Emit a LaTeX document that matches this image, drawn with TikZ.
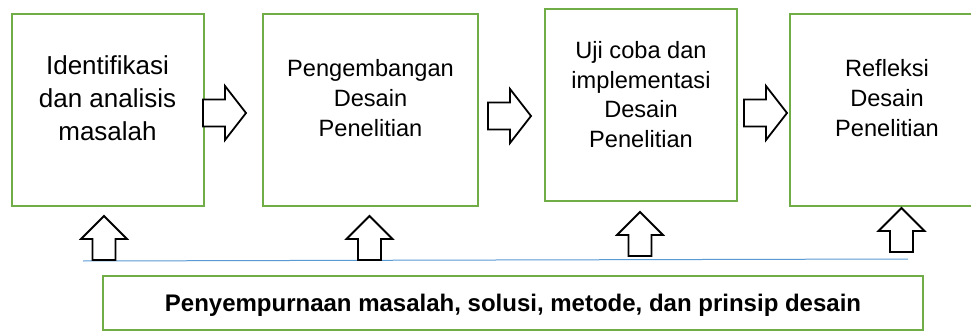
\documentclass[tikz,border=0pt]{standalone}
\usepackage{fontspec}
\setmainfont{Liberation Sans}
\definecolor{boxgreen}{HTML}{70AD47}
\definecolor{lineblue}{HTML}{5B9BD5}
\tikzset{
  stagebox/.style={draw=boxgreen, line width=2.3pt, fill=white, inner sep=0pt},
  stagetext/.style={align=center, inner sep=0pt, text=black},
  blockarrow/.style={draw=black, line width=1.8pt, fill=white, line join=miter},
  uparrow/.pic={\draw[blockarrow] (-11.5,0) -- (-11.5,-21) -- (-23,-21) -- (0,-44) -- (23,-21) -- (11.5,-21) -- (11.5,0) -- cycle;},
  rightarrow/.pic={\draw[blockarrow] (0,-13.5) -- (22,-13.5) -- (22,-27) -- (43,0) -- (22,27) -- (22,13.5) -- (0,13.5) -- cycle;}
}
\begin{document}
\begin{tikzpicture}[x=1pt,y=-1pt]
\clip (0,0) rectangle (971,331);
\fill[white] (0,0) rectangle (971,331);

% stage boxes
\node[stagebox, minimum width=192pt, minimum height=192pt] (b1) at (108,110) {};
\node[stagebox, minimum width=215pt, minimum height=192pt] (b2) at (370.5,110) {};
\node[stagebox, minimum width=192pt, minimum height=192pt] (b3) at (641,105) {};
\node[stagebox, minimum width=196pt, minimum height=192pt] (b4) at (888,110) {};

% texts
\node[stagetext, font=\fontsize{26}{33}\selectfont] (t1) at (107.5,98.5) {Identifikasi\\dan analisis\\masalah};
\node[stagetext, font=\fontsize{23.6}{30}\selectfont] (t2) at (370.5,98.5) {Pengembangan\\Desain\\Penelitian};
\node[stagetext, font=\fontsize{23.6}{29.5}\selectfont] (t3) at (641,94.5) {Uji coba dan\\implementasi\\Desain\\Penelitian};
\node[stagetext, font=\fontsize{23.6}{30}\selectfont] (t4) at (887,98.5) {Refleksi\\Desain\\Penelitian};

% right block arrows
\pic at (203,113) {rightarrow};
\pic at (488,116) {rightarrow};
\pic at (744,113) {rightarrow};

% blue line
\coordinate (l1) at (83,261);
\coordinate (l2) at (908,259);
\draw[lineblue, line width=1pt] (l1) -- (l2);

% up block arrows
\pic at (104,260) {uparrow};
\pic at (369.5,260) {uparrow};
\pic at (640,256) {uparrow};
\pic at (901.5,252) {uparrow};

% bottom box
\node[stagebox, minimum width=820pt, minimum height=54pt] (bb) at (513,303) {};
\node[anchor=base, inner sep=0pt, font=\fontsize{24}{28}\selectfont\bfseries] (bt) at (513,311) {Penyempurnaan masalah, solusi, metode, dan prinsip desain};
\end{tikzpicture}
\end{document}
